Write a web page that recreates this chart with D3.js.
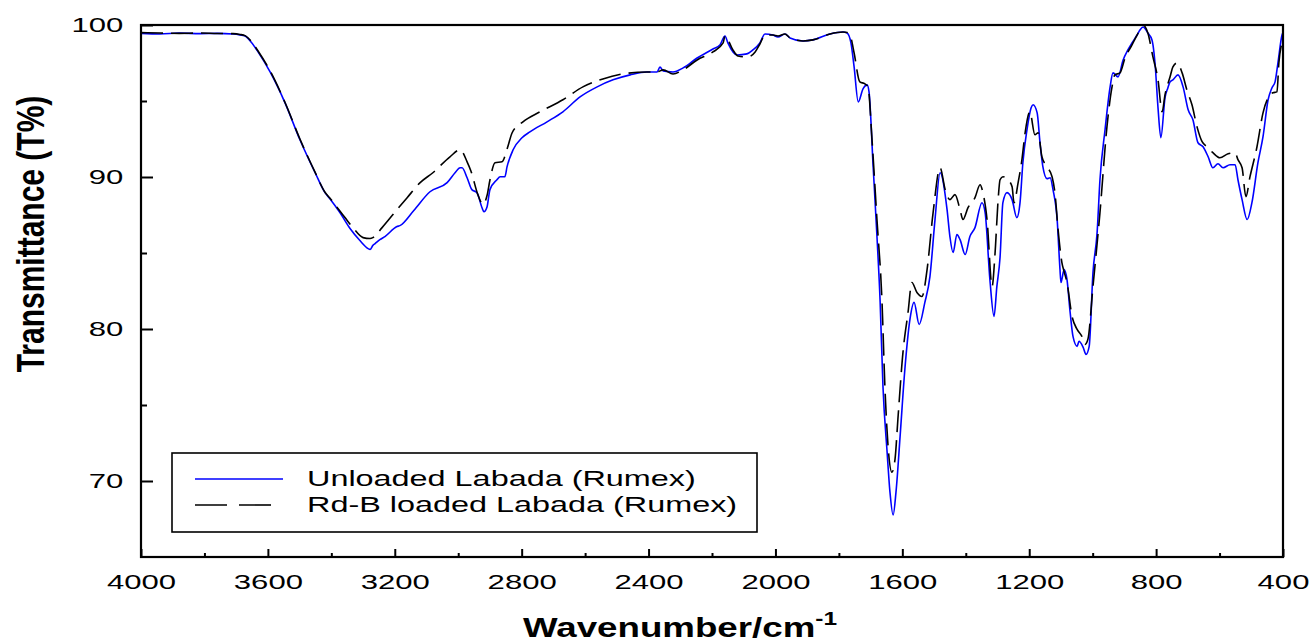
<!DOCTYPE html>
<html>
<head>
<meta charset="utf-8">
<script src="https://cdn.jsdelivr.net/npm/d3@7"></script>
<style>
  html, body { margin: 0; padding: 0; background: #fff; }
  svg { display: block; }
  text { font-family: "Liberation Sans", Arial, sans-serif; fill: #000; }
</style>
</head>
<body>
<svg id="chart" width="1311" height="643"></svg>
<script>
// FTIR spectra: wavenumber (cm-1) and transmittance (%T)
const unloadedWn = [4000,3940,3880,3814,3760,3710,3688,3672,3653,3631,3593,3546,3499,3451,3420,3404,3373,3341,3310,3284,3278,3269,3262,3247,3231,3193,3184,3140,3089,3035,3010,2994,2988,2972,2957,2941,2925,2919,2909,2900,2878,2868,2853,2846,2827,2799,2774,2720,2670,2616,2562,2512,2458,2405,2373,2364,2354,2323,2291,2247,2197,2175,2159,2150,2121,2090,2071,2049,2033,2008,1992,1970,1954,1913,1882,1828,1787,1774,1762,1752,1739,1724,1711,1705,1692,1680,1670,1661,1648,1639,1629,1620,1607,1592,1576,1563,1547,1529,1513,1497,1481,1459,1450,1440,1428,1418,1402,1387,1371,1349,1339,1324,1311,1302,1292,1283,1270,1254,1239,1229,1220,1207,1194,1188,1175,1166,1157,1144,1134,1125,1112,1103,1100,1090,1081,1071,1062,1049,1043,1030,1021,1011,999,986,977,961,945,936,920,904,889,876,860,851,841,826,813,803,794,785,772,763,756,747,731,715,699,684,668,652,636,621,605,589,567,551,542,529,513,498,479,463,447,435,425,416,403,400];
const unloadedT = [99.45,99.41,99.47,99.43,99.45,99.41,99.35,99.28,98.88,98.23,96.91,94.88,92.45,90.28,88.97,88.55,87.66,86.61,85.82,85.29,85.23,85.5,85.62,85.88,86.08,86.74,86.8,87.8,89.03,89.63,90.28,90.61,90.61,89.95,89.17,88.97,87.98,87.72,88.05,89.17,89.82,90.02,90.02,90.68,91.79,92.58,92.97,93.63,94.29,95.27,95.93,96.39,96.72,96.91,96.91,97.24,96.98,96.91,97.18,97.83,98.42,98.69,99.28,98.82,98.03,98.1,98.36,98.82,99.41,99.34,99.21,99.41,99.15,98.95,99.02,99.41,99.54,99.47,98.82,97.24,94.94,95.8,96.06,95.6,90.68,86.1,81.8,76.2,71.9,69.27,67.76,69.27,72.95,77.35,80.63,81.75,80.3,81.75,83.45,87.2,90.28,87.85,86.08,85.03,86.21,85.88,84.9,86.08,86.67,88.31,87.66,83.26,80.83,82.8,84.7,88.31,88.97,88.51,87.33,88.31,90.94,93.11,94.55,94.75,94.22,92.25,90.68,89.89,89.95,89.17,87.2,83.91,83.06,83.91,83.26,81.09,79.51,78.86,79.19,78.79,78.33,78.86,83.72,86.34,89.82,93.11,95.93,96.85,96.59,97.7,98.36,98.82,99.34,99.67,99.87,99.47,99.02,97.37,94.55,92.58,95.21,95.86,96.26,96.39,96.72,95.93,94.42,93.76,92.25,91.99,91.33,90.61,90.87,90.61,90.81,90.81,89.82,88.51,87.2,88.31,90.94,92.65,95.08,95.86,96.26,97.5,99.34,99.5];

const loadedWn = [4000,3940,3880,3814,3760,3710,3688,3672,3653,3631,3593,3546,3499,3451,3420,3404,3357,3332,3300,3278,3269,3240,3193,3161,3120,3080,3026,2994,2972,2960,2938,2922,2909,2900,2884,2862,2845,2830,2796,2742,2670,2607,2544,2481,2405,2373,2354,2323,2291,2247,2197,2165,2159,2134,2118,2087,2064,2049,2033,2008,1992,1970,1954,1913,1882,1828,1787,1774,1762,1752,1734,1718,1708,1696,1680,1664,1655,1645,1633,1623,1614,1598,1582,1570,1554,1538,1522,1503,1481,1465,1450,1434,1418,1409,1393,1371,1355,1346,1333,1317,1308,1298,1292,1283,1267,1254,1248,1235,1223,1213,1198,1182,1172,1160,1144,1128,1119,1109,1097,1090,1081,1065,1049,1034,1024,1015,999,977,955,939,930,914,898,876,860,841,826,810,794,781,772,756,747,734,718,703,687,671,655,640,621,599,573,551,542,529,517,504,482,463,447,432,419,413,403,400];
const loadedT = [99.5,99.47,99.45,99.47,99.44,99.43,99.38,99.3,98.95,98.29,96.98,94.9,92.5,90.3,89.0,88.6,87.33,86.67,86.01,85.95,86.01,86.67,87.85,88.64,89.63,90.28,91.33,91.79,91.0,90.4,88.84,88.2,88.8,89.8,90.94,91.0,91.9,92.91,93.63,94.29,95.08,95.93,96.45,96.78,96.91,96.91,97.05,96.78,97.05,97.7,98.23,98.82,99.28,98.36,97.96,97.9,98.23,98.75,99.34,99.34,99.28,99.41,99.15,98.95,99.02,99.41,99.54,99.5,99.15,98.16,96.26,96.13,95.93,92.58,87.2,81.75,76.23,72.29,70.58,71.44,74.06,78.46,81.09,83.06,82.4,82.14,83.91,87.66,90.61,89.17,88.51,88.84,87.85,87.2,87.98,88.64,89.49,88.97,87.2,82.8,84.9,88.51,89.82,90.02,89.82,89.36,88.31,89.63,91.14,92.91,94.29,92.78,92.91,91.33,90.68,90.02,88.97,86.54,84.37,83.78,83.06,80.83,79.97,79.51,78.99,79.32,82.8,87.66,93.3,95.93,96.72,96.85,97.83,98.69,99.34,100.0,99.47,97.9,96.39,94.29,95.4,96.59,97.24,97.5,96.85,95.73,94.75,93.3,92.32,91.99,91.6,91.27,91.53,91.6,91.14,90.61,88.71,90.02,91.99,94.22,95.21,95.54,95.6,97.5,98.9,99.2];

const seriesNames = ["Unloaded Labada (Rumex)", "Rd-B loaded Labada (Rumex)"];
const xMajorTicks = [4000,3600,3200,2800,2400,2000,1600,1200,800,400];
const xMinorTicks = [3800,3400,3000,2600,2200,1800,1400,1000,600];
const yMajorTicks = [70,80,90,100];
const yMinorTicks = [75,85,95];

const svg = d3.select("#chart");
const plotLeft = 141, plotRight = 1283, plotTop = 25, plotBottom = 557;
const stretch = 1.48; // wide letterforms

const x = d3.scaleLinear().domain([4000, 400]).range([plotLeft, plotRight]);
const y = d3.scaleLinear().domain([65, 100]).range([plotBottom, plotTop]);

svg.append("clipPath").attr("id", "plotClip")
  .append("rect").attr("x", plotLeft).attr("y", plotTop - 2)
  .attr("width", plotRight - plotLeft).attr("height", plotBottom - plotTop + 2);

// bottom axis: major + minor ticks pointing inward
const xAxis = svg.append("g").attr("transform", `translate(0,${plotBottom})`)
  .call(d3.axisBottom(x).tickValues(xMajorTicks).tickSize(-8).tickSizeOuter(0).tickPadding(17).tickFormat(d3.format("d")));
svg.append("g").attr("transform", `translate(0,${plotBottom})`)
  .call(d3.axisBottom(x).tickValues(xMinorTicks).tickSize(-4).tickSizeOuter(0).tickFormat(""));

const yAxis = svg.append("g").attr("transform", `translate(${plotLeft},0)`)
  .call(d3.axisLeft(y).tickValues(yMajorTicks).tickSize(-12).tickSizeOuter(0).tickPadding(12).tickFormat(d3.format("d")));
svg.append("g").attr("transform", `translate(${plotLeft},0)`)
  .call(d3.axisLeft(y).tickValues(yMinorTicks).tickSize(-6).tickSizeOuter(0).tickFormat(""));

svg.selectAll(".domain").remove();
svg.selectAll(".tick line").attr("stroke", "#000").attr("stroke-width", 2);
svg.selectAll(".tick text")
  .attr("font-size", 21).attr("font-family", "Liberation Sans, Arial, sans-serif")
  .attr("fill", "#000");
xAxis.selectAll(".tick text").attr("transform", `scale(${stretch},1)`);
yAxis.selectAll(".tick text").attr("transform", `scale(${stretch},1)`);

// spectra
const line = d3.line().x(d => x(d[0])).y(d => y(d[1])).curve(d3.curveMonotoneX);
const unloaded = unloadedWn.map((w, i) => [w, unloadedT[i]]);
const loaded = loadedWn.map((w, i) => [w, loadedT[i]]);

const plot = svg.append("g").attr("clip-path", "url(#plotClip)");
plot.append("path").datum(unloaded).attr("d", line)
  .attr("fill", "none").attr("stroke", "#0000ff").attr("stroke-width", 1.6);
plot.append("path").datum(loaded).attr("d", line)
  .attr("fill", "none").attr("stroke", "#000").attr("stroke-width", 1.6)
  .attr("stroke-dasharray", "22,8");

// frame
svg.append("rect").attr("x", plotLeft).attr("y", plotTop)
  .attr("width", plotRight - plotLeft).attr("height", plotBottom - plotTop)
  .attr("fill", "none").attr("stroke", "#000").attr("stroke-width", 2.2);

// legend
const legend = svg.append("g");
legend.append("rect").attr("x", 172).attr("y", 453).attr("width", 585).attr("height", 79)
  .attr("fill", "#fff").attr("stroke", "#000").attr("stroke-width", 1.6);
legend.append("line").attr("x1", 195).attr("x2", 283).attr("y1", 479).attr("y2", 479)
  .attr("stroke", "#0000ff").attr("stroke-width", 1.6);
legend.append("line").attr("x1", 195).attr("x2", 274).attr("y1", 505).attr("y2", 505)
  .attr("stroke", "#000").attr("stroke-width", 1.6).attr("stroke-dasharray", "32,12");
legend.selectAll("text.lbl").data(seriesNames).join("text").attr("class", "lbl")
  .attr("transform", (d, i) => `translate(307,${486 + i * 26}) scale(1.5,1)`)
  .attr("font-size", 21.6).text(d => d);

// axis titles
svg.append("text")
  .attr("transform", `translate(44,234) scale(1.3,1) rotate(-90)`)
  .attr("text-anchor", "middle").attr("font-size", 30).attr("font-weight", "bold")
  .text("Transmittance (T%)");

const xt = svg.append("text")
  .attr("transform", `translate(680,637) scale(1.36,1)`)
  .attr("text-anchor", "middle").attr("font-size", 27).attr("font-weight", "bold");
xt.append("tspan").text("Wavenumber/cm");
xt.append("tspan").attr("dy", -12).attr("font-size", 18).text("-1");
</script>
</body>
</html>
